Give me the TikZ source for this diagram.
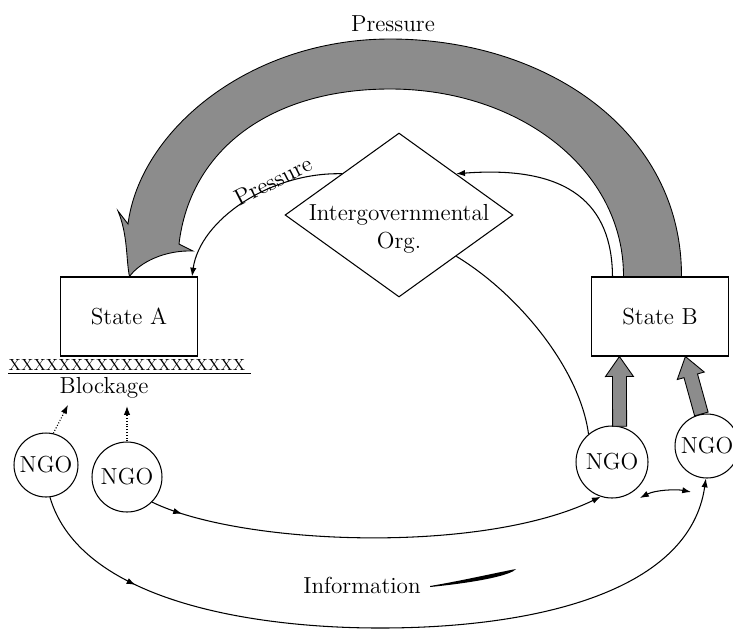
\documentclass[tikz,border=0pt]{standalone}
\usepackage{fontspec}
\usetikzlibrary{shapes.geometric,arrows.meta,decorations.markings,calc}
\newcommand\diagfont{\fontsize{13.2}{16}\selectfont}
\newcommand\blockarrow[2]{%
  \path ($(#2)!0.4cm!(#1)$) coordinate (hb);
  \filldraw[fatarrow] ($(#1)!0.14cm!90:(#2)$) -- ($(hb)!0.14cm!90:(#2)$)
    -- ($(hb)!0.28cm!90:(#2)$) -- (#2) -- ($(hb)!0.28cm!-90:(#2)$)
    -- ($(hb)!0.14cm!-90:(#2)$) -- ($(#1)!0.14cm!-90:(#2)$) -- cycle;}
\tikzset{
  every node/.style={font=\diagfont},
  statebox/.style={draw,minimum width=2.74cm,minimum height=1.58cm},
  igo/.style={draw,diamond,inner sep=0pt,minimum width=4.56cm,minimum height=3.28cm},
  ngo/.style={draw,circle,inner sep=0pt,minimum size=1.28cm},
  pointy/.style={-{Latex[length=5pt,width=3.6pt]}},
  fatarrow/.style={draw=black,line width=0.5pt,fill=black!45},
  midtip/.style={postaction={decorate,decoration={markings,
    mark=at position #1 with {\arrow{Latex[length=5pt,width=3.6pt]}}}}}
}
\begin{document}
\begin{tikzpicture}[x=0.02cm,y=-0.02cm,line width=0.6pt]
    \useasboundingbox (0,0) rectangle (733,630);
    \clip (0,0) rectangle (733,630);
    \node[statebox] (a) at (129,316.5) {State A};
    \node[statebox] (b) at (660,316.5) {State B};
    \node[igo] (i) at (399,215) {};
    \node[align=center] (il) at (399,229) {Intergovernmental\\Org.};
    \node[inner sep=0pt,font=\fontsize{9.2}{10}\selectfont] (x) at (127,365) {XXXXXXXXXXXXXXXXXXX};
    \node (l) at (104,388) {Blockage};
    \node[ngo] (n1) at (46,465) {NGO};
    \node[ngo,minimum size=1.4cm] (n2) at (127,477) {NGO};
    \node[ngo,minimum size=1.44cm] (n3) at (612,462) {NGO};
    \node[ngo] (n4) at (707,446) {NGO};
    \node (p1) at (393,24) {Pressure};
    \node[rotate=27] (p2) at (273,181) {Pressure};
    \node (info) at (362,585) {Information};
    \coordinate (l1) at (68,405);
    \coordinate (l2) at (127,406);
    \coordinate (c1) at (640,498);
    \coordinate (c2) at (691,492);
    \coordinate (t1) at ($(b.south west)!0.206!(b.south east)$);
    \coordinate (t2) at ($(b.south west)!0.684!(b.south east)$);
    \draw ([yshift=-1.5pt]x.south west) -- ([xshift=3pt,yshift=-1.5pt]x.south east);
    \filldraw[fatarrow] ($(b.north west)+(90.5,0)$) .. controls (682,130) and (545,39) .. (390,39)
      .. controls (250,39) and (140,130) .. (128,224) -- (118,211)
      .. controls (128,235) and (126,260) .. ($(a.north west)+(69.5,0)$)
      .. controls (140,262) and (165,250) .. (193,251) -- (179,244)
      .. controls (190,150) and (270,89) .. (390,89)
      .. controls (520,89) and (624,170) .. ($(b.north west)+(32.5,0)$) -- cycle;
    \draw[pointy] (i.north west) .. controls (270,172) and (200,220) .. ($(a.north east)+(-6,0)$);
    \draw[pointy] ($(b.north west)+(21.5,0)$) .. controls (612,205) and (570,165) .. (i.north east);
    \draw (i.south east) .. controls (520,295) and (580,370) .. (n3.130);
    \blockarrow{n3.78}{t1}
    \blockarrow{n4.100}{t2}
    \draw[pointy,densely dotted] (n1.77) -- (l1);
    \draw[pointy,densely dotted] (n2.north) -- (l2);
    \draw[pointy,midtip=0.07] (n2.-45) .. controls (240,545) and (480,555) .. (n3.-108);
    \draw[pointy,midtip=0.165] (n1.-83) .. controls (80,600) and (250,628) .. (380,628)
      .. controls (540,628) and (690,590) .. (n4.-92);
    \draw[{Latex[length=5pt,width=3.6pt]}-{Latex[length=5pt,width=3.6pt]}] (c1) .. controls (655,490) and (676,489) .. (c2);
    \fill (430,586) .. controls (460,581) and (495,573) .. (516,569)
      .. controls (511,575) and (480,582) .. (430,587) -- cycle;
\end{tikzpicture}
\end{document}
